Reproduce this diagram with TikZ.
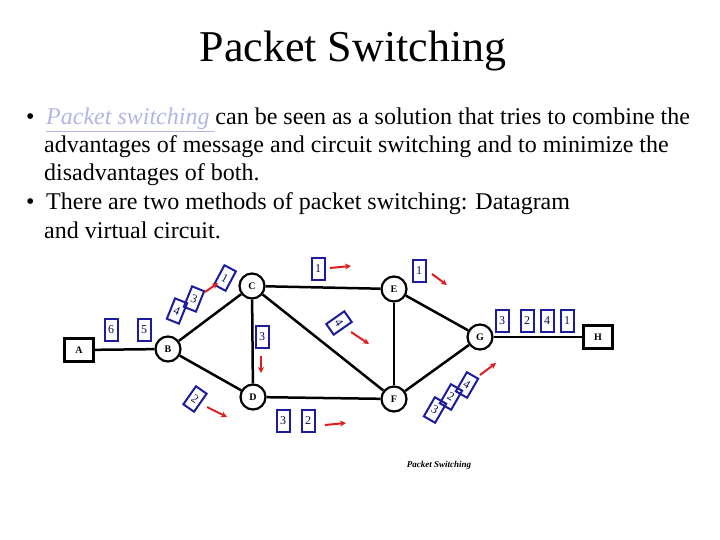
\documentclass[tikz,border=0pt]{standalone}
\usepackage{fontspec}
\setmainfont{Liberation Serif}
\usepackage{tikz}
\usetikzlibrary{arrows.meta,positioning}
\definecolor{LinkLav}{HTML}{B4B4E6}
\definecolor{PktBlue}{HTML}{1C1C9C}
\definecolor{FlowRed}{HTML}{DD1E1E}

\begin{document}
\begin{tikzpicture}[x=1pt, y=-1pt, >=Stealth,
  sw/.style={circle, draw, line width=2.2pt, minimum size=25pt, inner sep=0pt, font=\fontsize{10}{10}\selectfont\bfseries},
  host/.style={rectangle, draw, line width=2.2pt, minimum width=29pt, minimum height=23pt, inner sep=0pt, font=\fontsize{10}{10}\selectfont\bfseries},
  pkt/.style={rectangle, draw=PktBlue, line width=2pt, minimum width=13pt, minimum height=22pt, inner sep=0pt, text=PktBlue!50!black, font=\fontsize{12}{12}\selectfont},
  link/.style={line width=2.5pt},
  flow/.style={FlowRed, line width=2pt, -{Stealth[length=6pt,width=6pt]}},
  txt/.style={anchor=base west, inner sep=0pt, font=\fontsize{24}{24}\selectfont}]
  \useasboundingbox (0,0) rectangle (720,540);

  % title and bullets
  \node[font=\fontsize{44}{44}\selectfont, anchor=base, inner sep=0pt] (title) at (353,62) {Packet Switching};
  \node[txt] (b1) at (26,125) {\textbullet};
  \node[txt] (l1) at (46,125) {\textcolor{LinkLav}{\itshape\underline{Packet switching }}can be seen as a solution that tries to combine the};
  \node[txt] (l2) at (44,153) {advantages of message and circuit switching and to minimize the};
  \node[txt] (l3) at (44,181) {disadvantages of both.};
  \node[txt] (b2) at (26,210) {\textbullet};
  \node[txt] (l4) at (46,210) {There are two methods of packet switching: Datagram};
  \node[txt] (l5) at (44,238) {and virtual circuit.};

  % network
  \node[host] (A) at (79,350) {A};
  \node[sw] (B) at (168,349) {B};
  \node[sw] (C) at (252,286) {C};
  \node[sw] (D) at (253,397) {D};
  \node[sw] (E) at (394,289) {E};
  \node[sw] (F) at (394,399) {F};
  \node[sw] (G) at (480,337) {G};
  \node[host] (H) at (598,337) {H};

  \draw[link] (A) -- (B);
  \draw[link] (B) -- (C);
  \draw[link] (B) -- (D);
  \draw[link] (C) -- (E);
  \draw[link] (C) -- (D);
  \draw[link] (C) -- (F);
  \draw[link] (D) -- (F);
  \draw[link] (E) -- (F);
  \draw[link] (E) -- (G);
  \draw[link] (F) -- (G);
  \draw[line width=1.2pt] (G) -- (H);

  % packets
  \node[pkt] (p6) at (111,330) {6};
  \node[pkt] (p5) at (144,330) {5};
  \node[pkt, rotate=-22] (p4a) at (177,311) {4};
  \node[pkt, rotate=-22] (p3a) at (194,299) {3};
  \node[pkt, rotate=-28] (p1a) at (225,278) {1};
  \node[pkt] (p1b) at (318,269) {1};
  \node[pkt, rotate=-55] (p4b) at (339,323) {4};
  \node[pkt] (p3b) at (262,337) {3};
  \node[pkt, rotate=-35] (p2a) at (195,399) {2};
  \node[pkt] (p3c) at (283,421) {3};
  \node[pkt] (p2b) at (308,421) {2};
  \node[pkt] (p1c) at (419,271) {1};
  \node[pkt] (q3) at (502,321) {3};
  \node[pkt] (q2) at (527,321) {2};
  \node[pkt] (q4) at (547,321) {4};
  \node[pkt] (q1) at (567,321) {1};
  \node[pkt, rotate=-30] (r3) at (435,410) {3};
  \node[pkt, rotate=-30] (r2) at (451,397) {2};
  \node[pkt, rotate=-30] (r4) at (467,385) {4};

  % flow arrows
  \coordinate (f1s) at (205,292); \coordinate (f1e) at (218,283);
  \coordinate (f2s) at (330,268); \coordinate (f2e) at (351,266);
  \coordinate (f3s) at (351,332); \coordinate (f3e) at (369,344);
  \coordinate (f4s) at (261,356); \coordinate (f4e) at (261,373);
  \coordinate (f5s) at (207,407); \coordinate (f5e) at (227,417);
  \coordinate (f6s) at (325,425); \coordinate (f6e) at (346,423);
  \coordinate (f7s) at (432,274); \coordinate (f7e) at (447,285);
  \coordinate (f8s) at (480,375); \coordinate (f8e) at (496,363);
  \foreach \k in {1,...,8} {\draw[flow] (f\k s) -- (f\k e);}

  \node[font=\fontsize{9}{9}\selectfont\bfseries\itshape] (cap) at (439,465) {Packet Switching};
\end{tikzpicture}
\end{document}
